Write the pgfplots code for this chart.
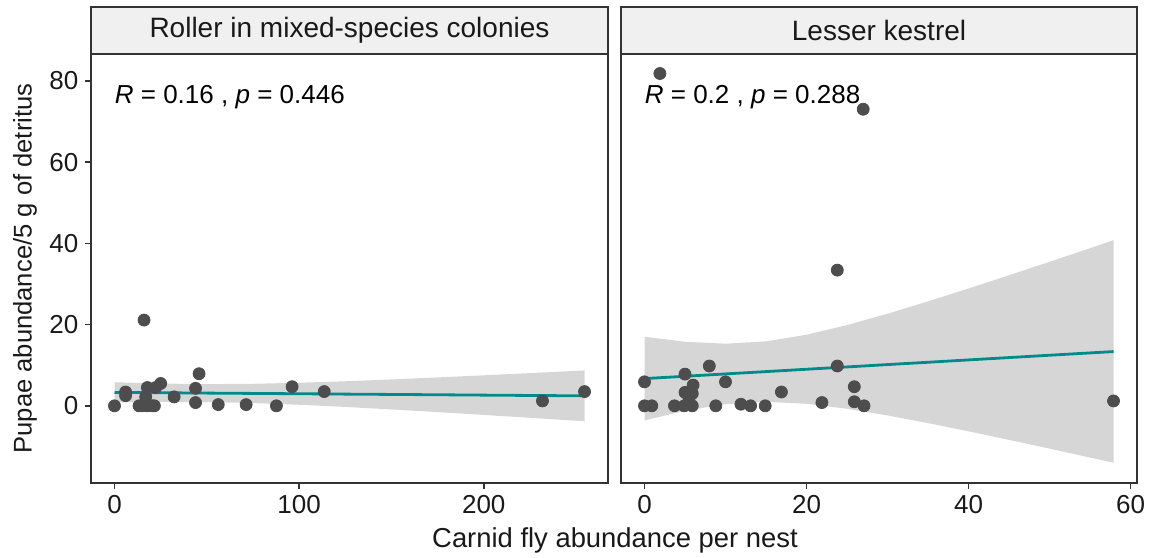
\documentclass[border=0pt]{standalone}
\usepackage{fontspec}
\setmainfont{Liberation Sans}
\usepackage{pgfplots}
\pgfplotsset{compat=1.18}
\usepackage{pgfplotstable}
\usepgfplotslibrary{fillbetween}

\definecolor{ptc}{HTML}{4D4D4D}
\definecolor{fitc}{HTML}{008B8B}
\definecolor{stripc}{HTML}{F0F0F0}
\definecolor{framec}{HTML}{333333}
\definecolor{ribc}{HTML}{999999}

% Roller in mixed-species colonies: points
\pgfplotstableread{
x y
0 0
6 3.4
6 2.5
16 21.1
13.3 0
15.1 0
17.8 0
20.5 0
21.6 0
17.8 4.5
16.9 2.2
25.0 5.5
22.3 4.5
32.3 2.2
45.8 7.9
43.9 4.3
43.9 0.8
56.2 0.3
71.3 0.3
87.7 0
96.2 4.7
113.6 3.5
231.8 1.2
254.6 3.5
}\ptsL

% Roller: regression line and confidence band
\pgfplotstableread{
x fit up lo
0 3.30 5.80 0.80
25 3.22 5.48 0.96
50 3.13 5.34 0.92
75 3.05 5.42 0.68
100 2.97 5.68 0.26
125 2.88 6.04 -0.28
150 2.80 6.49 -0.89
175 2.72 6.99 -1.55
200 2.63 7.51 -2.25
225 2.55 8.05 -2.95
254.6 2.45 8.71 -3.81
}\ribL

% Lesser kestrel: points
\pgfplotstableread{
x y
0 5.9
0 0
0.9 0
3.7 0
4.9 0
5.9 0
5.0 7.8
6.0 5.1
5.0 3.3
5.9 3.0
5.5 2.0
8.0 9.8
10.0 5.9
8.8 0
11.9 0.4
13.1 0
14.9 0
16.9 3.4
21.9 0.8
23.8 9.8
23.8 33.4
25.9 4.7
25.9 1.0
27.1 0
1.9 81.8
27.0 73.0
57.9 1.2
}\ptsR

% Lesser kestrel: regression line and confidence band
\pgfplotstableread{
x fit up lo
0 6.70 17.00 -3.60
5 7.27 15.77 -1.23
10 7.85 15.29 0.41
15 8.42 15.86 0.98
20 9.00 17.50 0.50
25 9.57 19.87 -0.73
30 10.15 22.67 -2.37
35 10.72 25.70 -4.26
40 11.30 28.88 -6.28
45 11.87 32.13 -8.39
50 12.45 35.44 -10.54
55 13.02 38.78 -12.74
57.9 13.35 40.80 -14.00
}\ribR

\pgfplotsset{panel/.style={
  scale only axis,
  height=214.5pt,
  ymin=-19.0, ymax=86.6,
  axis line style={draw=framec, line width=0.9pt},
  every tick/.style={draw=framec, line width=0.8pt},
  tick align=outside,
  major tick length=2.8pt,
  xtick pos=lower,
  ytick pos=left,
  ticklabel style={font=\fontsize{13}{15}\selectfont, text=black!90},
  /pgf/number format/assume math mode=true,
}}

\begin{document}
\begin{tikzpicture}

\begin{axis}[panel, name=L, at={(45.5pt,37pt)}, anchor=south west,
  width=258.5pt,
  xmin=-12.73, xmax=267.3,
  xtick={0,100,200},
  ytick={0,20,40,60,80}]
  \addplot[only marks, mark=*, mark size=3pt, color=ptc, mark options={solid, fill=ptc, draw=ptc}] table[x=x,y=y]{\ptsL};
  \addplot[draw=none, name path=lu, forget plot] table[x=x,y=up]{\ribL};
  \addplot[draw=none, name path=ll, forget plot] table[x=x,y=lo]{\ribL};
  \addplot[fill=ribc, fill opacity=0.4, draw=none] fill between[of=lu and ll];
  \addplot[fitc, line width=1.4pt, no marks] table[x=x,y=fit]{\ribL};
  \node[anchor=west, inner sep=0pt, font=\fontsize{13}{15}\selectfont] at (axis cs:0,76) {\textit{R} = 0.16 , \textit{p} = 0.446};
\end{axis}

\begin{axis}[panel, name=R, at={(310.5pt,37pt)}, anchor=south west,
  width=258pt,
  xmin=-2.9, xmax=60.8,
  xtick={0,20,40,60},
  ytick=\empty]
  \addplot[only marks, mark=*, mark size=3pt, color=ptc, mark options={solid, fill=ptc, draw=ptc}] table[x=x,y=y]{\ptsR};
  \addplot[draw=none, name path=ru, forget plot] table[x=x,y=up]{\ribR};
  \addplot[draw=none, name path=rl, forget plot] table[x=x,y=lo]{\ribR};
  \addplot[fill=ribc, fill opacity=0.4, draw=none] fill between[of=ru and rl];
  \addplot[fitc, line width=1.4pt, no marks] table[x=x,y=fit]{\ribR};
  \node[anchor=west, inner sep=0pt, font=\fontsize{13}{15}\selectfont] at (axis cs:0,76) {\textit{R} = 0.2 , \textit{p} = 0.288};
\end{axis}

% facet strips
\draw[draw=framec, line width=0.9pt, fill=stripc] (L.north west) rectangle ([yshift=23.5pt]L.north east);
\node[font=\fontsize{14}{16}\selectfont, text=black!90] at ([yshift=11.75pt]L.north) {Roller in mixed-species colonies};
\draw[draw=framec, line width=0.9pt, fill=stripc] (R.north west) rectangle ([yshift=23.5pt]R.north east);
\node[font=\fontsize{14}{16}\selectfont, text=black!90] at ([yshift=11.75pt]R.north) {Lesser kestrel};

% axis titles
\node[font=\fontsize{13.7}{16}\selectfont, text=black!90] at (307.5pt,8.5pt) {Carnid fly abundance per nest};
\node[font=\fontsize{12.8}{15}\selectfont, rotate=90, text=black!90] at (12.5pt,144.25pt) {Pupae abundance/5 g of detritus};

\pgfresetboundingbox
\useasboundingbox (0,0) rectangle (575pt,278.5pt);
\end{tikzpicture}
\end{document}
